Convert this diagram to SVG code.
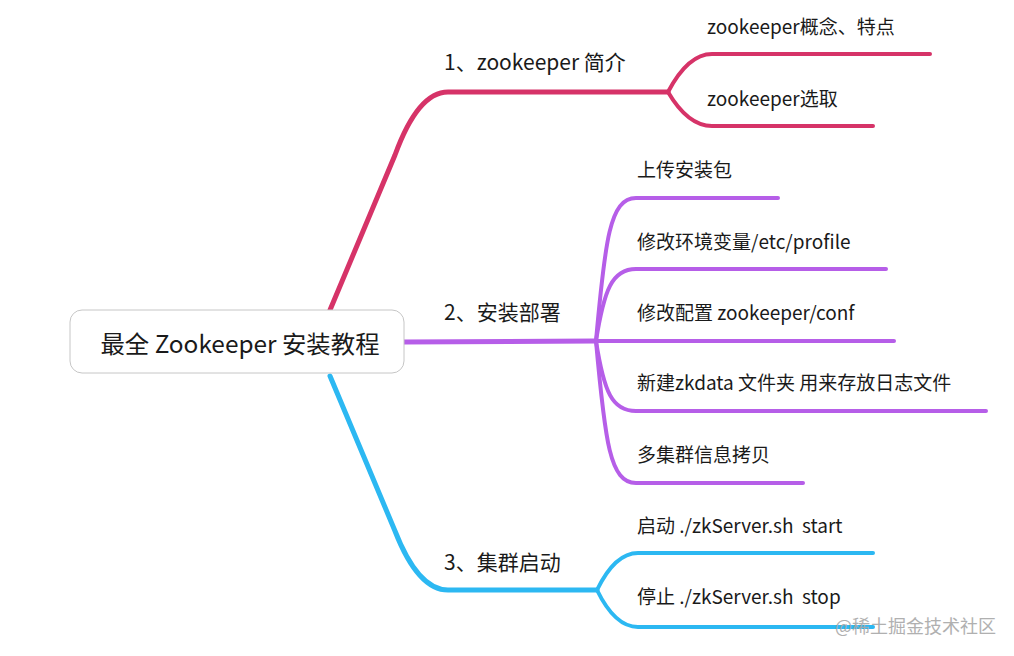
<svg xmlns="http://www.w3.org/2000/svg" width="1014" height="656" viewBox="0 0 1014 656">
<style>
text{font-family:"Microsoft YaHei","Noto Sans CJK SC","Noto Sans",sans-serif;fill:#1a1a1a}
.root{font-size:24.4px}
.b{font-size:21px}
.s{font-size:19px}
.ln{fill:none;stroke-linecap:round;stroke-linejoin:round}
.m{stroke-width:5}
.t{stroke-width:4}
.pink{stroke:#d63368}
.purple{stroke:#b65ee8}
.blue{stroke:#2cb8f2}
</style>
<rect width="1014" height="656" fill="#ffffff"/>
<g id="connectors">
<path class="ln m pink" d="M330,310 L395,155 Q418,92 448,92 L668,92"/>
<path class="ln t pink" d="M668,92 Q688,54 712,54 L930,54"/>
<path class="ln t pink" d="M668,92 Q688,126 712,126 L873,126"/>
<path class="ln m purple" d="M404,342 L596,341"/>
<path class="ln t purple" d="M596,341 C605,240 610,198 636,198 L778,198"/>
<path class="ln t purple" d="M596,341 C604,290 612,269 636,269 L886,269"/>
<path class="ln t purple" d="M596,341 L894,341"/>
<path class="ln t purple" d="M596,341 C604,392 612,411 636,411 L986,411"/>
<path class="ln t purple" d="M596,341 C605,442 610,483 636,483 L803,483"/>
<path class="ln m blue" d="M330,376 L395,531 Q418,590 448,590 L597,590"/>
<path class="ln t blue" d="M597,590 Q615,553 638,553 L873,553"/>
<path class="ln t blue" d="M597,590 Q615,627 638,627 L873,627"/>
</g>
<g id="root">
<rect x="70" y="310" width="334" height="63" rx="12" fill="#ffffff" stroke="#c6c6c6" stroke-width="1"/>
<text class="root" x="240" y="353" text-anchor="middle">最全 Zookeeper 安装教程</text>
</g>
<g id="b1"><text class="b" x="444" y="70">1、zookeeper 简介</text></g>
<g id="b1-1"><text class="s" x="707" y="34">zookeeper概念、特点</text></g>
<g id="b1-2"><text class="s" x="707" y="106">zookeeper选取</text></g>
<g id="b2"><text class="b" x="444" y="320">2、安装部署</text></g>
<g id="b2-1"><text class="s" x="637" y="177">上传安装包</text></g>
<g id="b2-2"><text class="s" x="637" y="249">修改环境变量/etc/profile</text></g>
<g id="b2-3"><text class="s" x="637" y="320">修改配置 zookeeper/conf</text></g>
<g id="b2-4"><text class="s" x="637" y="390">新建zkdata 文件夹 用来存放日志文件</text></g>
<g id="b2-5"><text class="s" x="637" y="462">多集群信息拷贝</text></g>
<g id="b3"><text class="b" x="444" y="570">3、集群启动</text></g>
<g id="b3-1"><text class="s" x="637" y="533" xml:space="preserve">启动 ./zkServer.sh  start</text></g>
<g id="b3-2"><text class="s" x="637" y="604" xml:space="preserve">停止 ./zkServer.sh  stop</text></g>
<text x="835" y="633" style="font-size:18px;fill:#a8a8a8;opacity:0.9">@稀土掘金技术社区</text>
</svg>
